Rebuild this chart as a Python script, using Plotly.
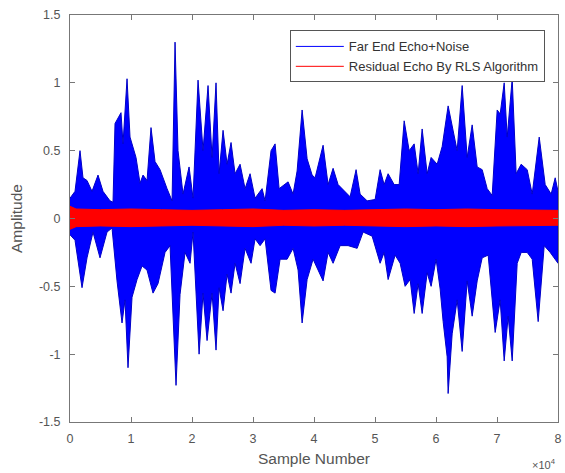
import plotly.graph_objects as go

# Far End Echo+Noise: upper envelope (sample index, amplitude)
blue_upper_x = [0, 820, 1640, 2130, 2790, 3610, 4590, 5410, 6560, 7050, 7380, 8360, 8690, 9350, 9840,
                10820, 11480, 11970, 12630, 13280, 13940, 14760, 15910, 16730, 17220, 17710, 18530,
                19520, 20170, 20990, 21810, 22630, 23290, 23940, 24440, 25090, 25750, 26400, 27060,
                27880, 28700, 29520, 30340, 31490, 31980, 32960, 33620, 34280, 35750, 36570, 37230,
                38050, 38870, 39690, 40180, 41490, 42310, 43130, 43950, 45100, 45920, 46900, 47560,
                48710, 50020, 50840, 51500, 52150, 53140, 53960, 54780, 55600, 56420, 57070, 57730,
                58550, 59200, 60190, 61010, 61990, 62810, 63470, 64290, 65110, 65930, 66750, 67570,
                68390, 69210, 70030, 70520, 71180, 71670, 72490, 73140, 73960, 74950, 75770, 76920,
                77900, 78880, 79540, 80000]
blue_upper = [0.15, 0.2, 0.5, 0.3, 0.28, 0.2, 0.32, 0.2, 0.13, 0.12, 0.7, 0.78, 0.55, 1.03, 0.6,
              0.45, 0.26, 0.32, 0.28, 0.67, 0.42, 0.36, 0.22, 0.13, 1.30, 0.5, 0.18,
              0.38, 0.15, 1.02, 0.5, 0.98, 0.45, 1.0, 0.33, 0.65, 0.40, 0.56, 0.33,
              0.4, 0.22, 0.33, 0.15, 0.22, 0.13, 0.5, 0.55, 0.22, 0.27, 0.18, 0.35,
              0.8, 0.44, 0.32, 0.3, 0.54, 0.25, 0.37, 0.25, 0.2, 0.16, 0.36, 0.18,
              0.13, 0.14, 0.36, 0.25, 0.33, 0.25, 0.25, 0.72, 0.5, 0.55, 0.33, 0.66,
              0.33, 0.45, 0.4, 0.53, 0.83, 0.66, 0.5, 0.98, 0.45, 0.69, 0.38, 0.36,
              0.22, 0.17, 0.8, 0.77, 1.0, 0.6, 1.03, 0.33, 0.4, 0.36, 0.18, 0.6,
              0.25, 0.18, 0.3, 0.2]

# Far End Echo+Noise: lower envelope
blue_lower_x = [0, 820, 1970, 2790, 3770, 4920, 6070, 6890, 7710, 8530, 9020, 9510, 10170, 10990,
                11810, 12630, 13610, 14430, 15580, 16400, 17380, 18040, 18860, 19680, 20170, 21160,
                21810, 22470, 23290, 23940, 24440, 25090, 25750, 26400, 27060, 27880, 28700, 29680,
                30340, 31160, 31980, 32960, 33620, 34440, 35590, 36570, 37390, 38050, 38870, 39850,
                41490, 42310, 43130, 44280, 45590, 47070, 48050, 49530, 50840, 51500, 52150, 53300,
                54120, 54940, 55760, 56420, 57070, 57730, 58550, 59200, 60020, 60680, 61170, 61830,
                61990, 62650, 63470, 64290, 65110, 65930, 66750, 67570, 68550, 69700, 70520, 71180,
                71830, 72490, 73310, 73970, 74950, 75770, 76750, 77740, 78720, 80000]
blue_lower = [-0.12, -0.16, -0.51, -0.29, -0.1, -0.29, -0.1, -0.07, -0.46, -0.77, -0.6, -1.1, -0.58, -0.45,
              -0.35, -0.38, -0.55, -0.48, -0.25, -0.2, -1.23, -0.56, -0.25, -0.33, -0.1, -1.0,
              -0.55, -0.9, -0.55, -0.97, -0.51, -0.68, -0.41, -0.55, -0.33, -0.48, -0.22, -0.33,
              -0.15, -0.2, -0.15, -0.53, -0.55, -0.3, -0.3, -0.22, -0.38, -0.77, -0.45, -0.3,
              -0.46, -0.25, -0.33, -0.2, -0.2, -0.22, -0.1, -0.13, -0.33, -0.25, -0.45, -0.27,
              -0.33, -0.5, -0.45, -0.7, -0.48, -0.7, -0.4, -0.5, -0.3, -0.52, -0.76, -1.02,
              -1.29, -0.85, -0.6, -0.98, -0.46, -0.72, -0.46, -0.29, -0.27, -0.84, -0.6, -1.05,
              -0.72, -1.05, -0.33, -0.25, -0.25, -0.3, -0.76, -0.2, -0.25, -0.33]

# Residual Echo By RLS Algorithm: band
red_x = [0, 1000, 5000, 10000, 15000, 20000, 25000, 30000, 35000, 40000, 45000, 50000, 55000,
         60000, 65000, 70000, 75000, 80000]
red_upper = [0.09, 0.07, 0.065, 0.07, 0.065, 0.06, 0.065, 0.07, 0.06, 0.065, 0.06, 0.065, 0.07,
             0.065, 0.07, 0.065, 0.06, 0.06]
red_lower = [-0.08, -0.06, -0.055, -0.06, -0.055, -0.05, -0.055, -0.06, -0.05, -0.055, -0.05,
             -0.055, -0.06, -0.055, -0.06, -0.055, -0.05, -0.05]

x_tickvals = [0, 10000, 20000, 30000, 40000, 50000, 60000, 70000, 80000]
x_ticktext = ["0", "1", "2", "3", "4", "5", "6", "7", "8"]
y_tickvals = [-1.5, -1, -0.5, 0, 0.5, 1, 1.5]
y_ticktext = ["-1.5", "-1", "-0.5", "0", "0.5", "1", "1.5"]

BLUE = "#0000FF"
RED = "#FF0000"
FONT = "Liberation Sans, Arial, sans-serif"

fig = go.Figure()
fig.add_trace(go.Scatter(
    x=blue_upper_x + blue_lower_x[::-1], y=blue_upper + blue_lower[::-1],
    fill="toself", fillcolor=BLUE, mode="lines", line=dict(color="#0000C8", width=1),
    showlegend=False, hoverinfo="skip"))
fig.add_trace(go.Scatter(
    x=red_x + red_x[::-1], y=red_upper + red_lower[::-1],
    fill="toself", fillcolor=RED, mode="lines", line=dict(color=RED, width=1),
    showlegend=False, hoverinfo="skip"))
# legend entries (single point -> no visible mark in the plot)
fig.add_trace(go.Scatter(x=[red_x[0]], y=[0], mode="lines", line=dict(color=BLUE, width=1),
                         name="Far End Echo+Noise", hoverinfo="skip"))
fig.add_trace(go.Scatter(x=[red_x[0]], y=[0], mode="lines", line=dict(color=RED, width=1),
                         name="Residual Echo By RLS Algorithm", hoverinfo="skip"))

axis_common = dict(showgrid=False, zeroline=False, showline=True, linecolor="#777777",
                   linewidth=1, mirror="ticks", ticks="inside", ticklen=5, tickcolor="#777777",
                   tickfont=dict(family=FONT, size=12.5, color="#555555"), automargin=False)

fig.update_xaxes(range=[0, 80000], tickvals=x_tickvals, ticktext=x_ticktext,
                 ticklabelstandoff=5,
                 title=dict(text="Sample Number", font=dict(family=FONT, size=15.5, color="#555555"),
                            standoff=8),
                 **axis_common)
fig.update_yaxes(range=[-1.5, 1.5], tickvals=y_tickvals, ticktext=y_ticktext,
                 ticklabelstandoff=6,
                 title=dict(text="Amplitude", font=dict(family=FONT, size=15.5, color="#555555"),
                            standoff=12),
                 **axis_common)

fig.add_annotation(x=1.0, y=-0.082, xref="paper", yref="paper", xanchor="right", yanchor="top",
                   text="×10<sup>4</sup>", showarrow=False,
                   font=dict(family=FONT, size=11, color="#555555"))

fig.update_layout(
    width=565, height=473,
    margin=dict(l=70, r=7, t=15, b=51),
    paper_bgcolor="white", plot_bgcolor="white",
    legend=dict(x=0.973, y=0.962, xanchor="right", yanchor="top", bgcolor="white",
                bordercolor="#555555", borderwidth=1,
                font=dict(family=FONT, size=13, color="#333333"),
                tracegroupgap=0, itemwidth=48),
    hovermode=False,
)

fig.write_html("out.html", post_script="document.body.style.margin='0';",
               config={"displayModeBar": False})
